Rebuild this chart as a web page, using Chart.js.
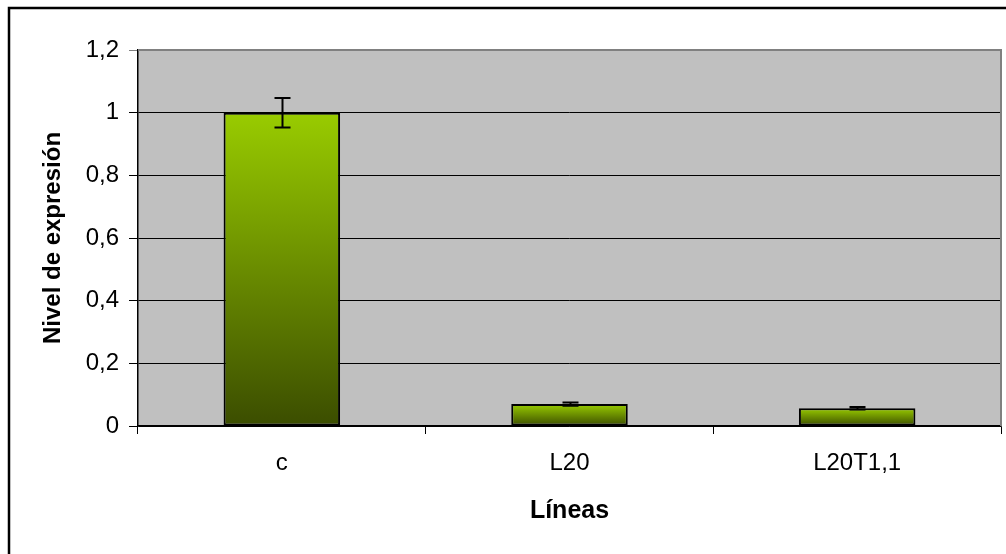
<!DOCTYPE html>
<html>
<head>
<meta charset="utf-8">
<style>
  html, body { margin: 0; padding: 0; background: #ffffff; }
  #wrap { width: 1006px; height: 554px; position: relative; }
</style>
<script src="https://cdn.jsdelivr.net/npm/chart.js@4/dist/chart.umd.min.js"></script>
</head>
<body>
<div id="wrap"><canvas id="chart" width="1006" height="554"></canvas></div>
<script>
// Expression levels per line, with their error bars
const categories = ['c', 'L20', 'L20T1,1'];
const expression = [1.0, 0.07, 0.057];
const errors = [0.047, 0.005, 0.004];
const yTickValues = [0, 0.2, 0.4, 0.6, 0.8, 1, 1.2];
const yTickLabels = ['0', '0,2', '0,4', '0,6', '0,8', '1', '1,2'];

const FONT = '"Liberation Sans", Arial, sans-serif';

// Per-bar vertical gradient (light green on top, dark olive at the base)
function barGradient(ctx) {
  const chart = ctx.chart;
  const y = chart.scales.y;
  if (!chart.chartArea || !y || ctx.raw == null) return '#99cc00';
  const top = y.getPixelForValue(ctx.raw);
  const base = y.getPixelForValue(0);
  if (!isFinite(top) || !isFinite(base) || top === base) return '#99cc00';
  const g = chart.ctx.createLinearGradient(0, top, 0, base);
  g.addColorStop(0, '#99cc00');
  g.addColorStop(1, '#3b4d00');
  return g;
}

// Outer frame and grey plot background
const framePlugin = {
  id: 'frame',
  beforeDraw(chart) {
    const { ctx, chartArea: a } = chart;
    ctx.save();
    ctx.fillStyle = '#ffffff';
    ctx.fillRect(0, 0, chart.width, chart.height);
    ctx.strokeStyle = '#000000';
    ctx.lineWidth = 2.5;
    ctx.strokeRect(9, 8, chart.width + 20, chart.height + 20);
    ctx.fillStyle = '#c0c0c0';
    ctx.fillRect(a.left, a.top, a.right - a.left, a.bottom - a.top);
    ctx.restore();
  },
  afterDatasetsDraw(chart) {
    const { ctx, chartArea: a } = chart;
    ctx.save();
    ctx.strokeStyle = '#808080';
    ctx.lineWidth = 2;
    ctx.beginPath();
    ctx.moveTo(a.left, a.top);
    ctx.lineTo(a.right, a.top);
    ctx.lineTo(a.right, a.bottom);
    ctx.stroke();
    ctx.restore();
  }
};

// Error bars drawn from the same values through the scales
const errorBarPlugin = {
  id: 'errorBars',
  afterDatasetsDraw(chart) {
    const { ctx } = chart;
    const y = chart.scales.y;
    const meta = chart.getDatasetMeta(0);
    ctx.save();
    ctx.strokeStyle = '#000000';
    ctx.lineWidth = 2;
    meta.data.forEach((bar, i) => {
      const v = expression[i], e = errors[i];
      const x = Math.round(bar.x) + 0.5;
      const yHi = y.getPixelForValue(v + e);
      const yLo = y.getPixelForValue(v - e);
      const cap = 8;
      ctx.beginPath();
      ctx.moveTo(x, yHi); ctx.lineTo(x, yLo);
      ctx.moveTo(x - cap, yHi); ctx.lineTo(x + cap, yHi);
      ctx.moveTo(x - cap, yLo); ctx.lineTo(x + cap, yLo);
      ctx.stroke();
    });
    ctx.restore();
  }
};

new Chart(document.getElementById('chart'), {
  type: 'bar',
  data: {
    labels: categories,
    datasets: [{
      data: expression,
      backgroundColor: barGradient,
      borderColor: '#000000',
      borderWidth: 2,
      borderSkipped: false,
      barPercentage: 0.405,
      categoryPercentage: 1.0
    }]
  },
  options: {
    responsive: false,
    animation: false,
    devicePixelRatio: 1,
    layout: { padding: { left: 10, top: 50, right: 5, bottom: 0 } },
    plugins: { legend: { display: false }, tooltip: { enabled: false } },
    scales: {
      x: {
        afterFit(scale) { scale.height = 128; },
        grid: {
          display: true,
          drawOnChartArea: false,
          offset: true,
          color: '#000000',
          lineWidth: 1,
          tickLength: 8
        },
        border: { display: true, color: '#000000', width: 1.5 },
        ticks: {
          color: '#000000',
          font: { family: FONT, size: 24 },
          padding: 15,
          maxRotation: 0
        },
        title: {
          display: true,
          text: 'Líneas',
          color: '#000000',
          font: { family: FONT, size: 25, weight: 'bold' },
          padding: { top: 0, bottom: 28 }
        }
      },
      y: {
        min: 0,
        max: 1.2,
        afterFit(scale) { scale.width = 128; },
        afterBuildTicks(scale) {
          scale.ticks = yTickValues.map(v => ({ value: v }));
        },
        grid: {
          color: (c) => (c.tick && c.tick.value === 1.2 ? '#808080' : '#000000'),
          lineWidth: 1,
          tickLength: 9,
          drawTicks: true
        },
        border: { display: true, color: '#000000', width: 1.5 },
        ticks: {
          color: '#000000',
          font: { family: FONT, size: 24 },
          padding: 10,
          callback: (value) => {
            const i = yTickValues.findIndex(t => Math.abs(t - value) < 1e-9);
            return i >= 0 ? yTickLabels[i] : '';
          }
        },
        title: {
          display: true,
          text: 'Nivel de expresión',
          color: '#000000',
          font: { family: FONT, size: 24, weight: 'bold' },
          padding: { top: 29, bottom: 0 }
        }
      }
    }
  },
  plugins: [framePlugin, errorBarPlugin]
});
</script>
</body>
</html>
